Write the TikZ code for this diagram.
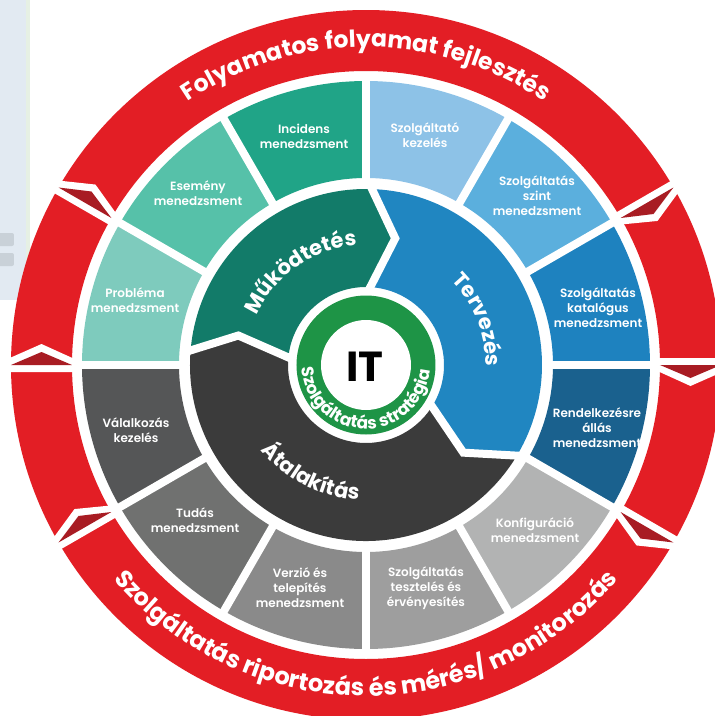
\documentclass[tikz,border=0pt]{standalone}
\usepackage{fontspec}
\setmainfont{Poppins}[UprightFont=* SemiBold, BoldFont=* Bold]
\usetikzlibrary{decorations.text}
\definecolor{ringred}{HTML}{E31E25}
\definecolor{ringdark}{HTML}{A81C23}
\definecolor{cKat}{HTML}{1E82BF}
\definecolor{cSzint}{HTML}{5BAFDD}
\definecolor{cSzolg}{HTML}{8DC2E7}
\definecolor{cInc}{HTML}{20A487}
\definecolor{cEsem}{HTML}{56C1A9}
\definecolor{cProb}{HTML}{7ECBBD}
\definecolor{cVal}{HTML}{555657}
\definecolor{cTud}{HTML}{707170}
\definecolor{cVer}{HTML}{8A8A8A}
\definecolor{cTeszt}{HTML}{9E9E9E}
\definecolor{cKonf}{HTML}{B2B3B3}
\definecolor{cRend}{HTML}{1A618E}
\definecolor{cMuk}{HTML}{127B69}
\definecolor{cTerv}{HTML}{2086C1}
\definecolor{cAtal}{HTML}{3B3B3B}
\definecolor{cGreen}{HTML}{1E9446}
\definecolor{panel}{HTML}{E2EAF2}
\definecolor{panelline}{HTML}{E6F0E4}
\definecolor{tabcol}{HTML}{C9D1D8}
\newcommand\ringfont{\fontsize{23.5}{23.5}\selectfont\bfseries}
\newcommand\ringfontb{\fontsize{24}{24}\selectfont\bfseries}
\newcommand\midfont{\fontsize{21}{21}\selectfont\bfseries}
\newcommand\greenfont{\fontsize{17}{17}\selectfont\bfseries}
\begin{document}
\begin{tikzpicture}[x=1pt,y=1pt,
  gapline/.style={draw=white, line width=8pt},
  tipline/.style={draw=white, line width=8pt, miter limit=20},
  seglabel/.style={text=white, align=center, font=\fontsize{12}{15}\selectfont, inner sep=0pt},
  curvetext/.style={decorate, decoration={text along path, text align=center, text color=white, text={#1}}}
]
\fill[white] (-366,-351) rectangle (349,365);
\useasboundingbox (-366,-351) rectangle (349,365);
% screenshot side panel
\fill[panel] (-366,365) rectangle (-340,65);
\fill[panelline] (-340,365) rectangle (-336,65);
\fill[tabcol, rounded corners=2pt] (-369,132) rectangle (-352,119);
\fill[tabcol, rounded corners=2pt] (-369,112) rectangle (-352,99);
% red outer ring with arrow junctions
\fill[ringred, even odd rule] (0,0) circle[radius=355] (0,0) circle[radius=294];
\foreach \t in {150,180,210,330,0,30}{
  \begin{scope}[rotate=\t]
    \fill[white] (287,7) -- (363,7) -- (363,-4) -- (324.5,-21) -- (287,-4) -- cycle;
    \fill[ringdark] (294,0) -- (324.5,-13) -- (355,0) -- cycle;
  \end{scope}
}
% outer segments
\foreach \a/\c in {0/cKat,30/cSzint,60/cSzolg,90/cInc,120/cEsem,150/cProb,180/cVal,210/cTud,240/cVer,270/cTeszt,300/cKonf,330/cRend}{
  \pgfmathsetmacro\b{\a+30}
  \fill[\c] (\a:187) arc[start angle=\a, end angle=\b, radius=187] -- (\b:284) arc[start angle=\b, end angle=\a, radius=284] -- cycle;
}
\foreach \a in {0,30,...,330}{ \draw[gapline] (\a:181) -- (\a:290); }
% middle ring
\fill[cMuk] (176:176) arc[start angle=176,end angle=89,radius=176] -- (77:130) -- (89:78) arc[start angle=89,end angle=176,radius=78] -- (167:131) -- cycle;
\fill[cTerv] (89:176) arc[start angle=89,end angle=-30,radius=176] -- (-42:131) -- (-30:78) arc[start angle=-30,end angle=89,radius=78] -- (77:130) -- cycle;
\fill[cAtal] (-30:176) arc[start angle=-30,end angle=-184,radius=176] -- (167:131) -- (176:78) arc[start angle=176,end angle=330,radius=78] -- (-42:131) -- cycle;
\draw[tipline] (176:182) -- (167:131) -- (176:72);
\draw[tipline] (89:182) -- (77:130) -- (89:72);
\draw[tipline] (-30:182) -- (-42:131) -- (-30:72);
% centre
\fill[cGreen] (0,0) circle[radius=69.5];
\fill[white] (0,0) circle[radius=45];
\node (it) at (-1,-2) {\fontsize{42}{42}\selectfont\bfseries IT};
% curved texts
\path[curvetext={|\ringfont|Folyamatos folyamat fejlesztés}] (170:318) arc[start angle=170,end angle=10,radius=318];
\path[curvetext={|\ringfontb|Szolgáltatás riportozás és mérés/ monitorozás}] (190:331) arc[start angle=190,end angle=350,radius=331];
\path[curvetext={|\midfont|Működtetés}] (195:120) arc[start angle=195,end angle=55,radius=120];
\path[curvetext={|\midfont|Tervezés}] (92:120) arc[start angle=92,end angle=-48,radius=120];
\path[curvetext={|\midfont|Átalakítás}] (173:135) arc[start angle=173,end angle=313,radius=135];
\path[curvetext={|\greenfont|Szolgáltatás stratégia}] (119:64) arc[start angle=119,end angle=419,radius=64];
% segment labels
\node[seglabel] (kat) at (232,57) {Szolgáltatás\\katalógus\\menedzsment};
\node[seglabel] (szint) at (171,169) {Szolgáltatás\\szint\\menedzsment};
\node[seglabel] (szolg) at (59,230) {Szolgáltató\\kezelés};
\node[seglabel] (inc) at (-62,229) {Incidens\\menedzsment};
\node[seglabel] (esem) at (-168,172) {Esemény\\menedzsment};
\node[seglabel] (prob) at (-231,65) {Probléma\\menedzsment};
\node[seglabel] (val) at (-230,-65) {Válalkozás\\kezelés};
\node[seglabel] (tud) at (-171,-155) {Tudás\\menedzsment};
\node[seglabel] (ver) at (-66,-223) {Verzió és\\telepítés\\menedzsment};
\node[seglabel] (teszt) at (60,-223) {Szolgáltatás\\tesztelés és\\érvényesítés};
\node[seglabel] (konf) at (169,-165) {Konfiguráció\\menedzsment};
\node[seglabel] (rend) at (231,-63) {Rendelkezésre\\állás\\menedzsment};
\end{tikzpicture}
\end{document}
